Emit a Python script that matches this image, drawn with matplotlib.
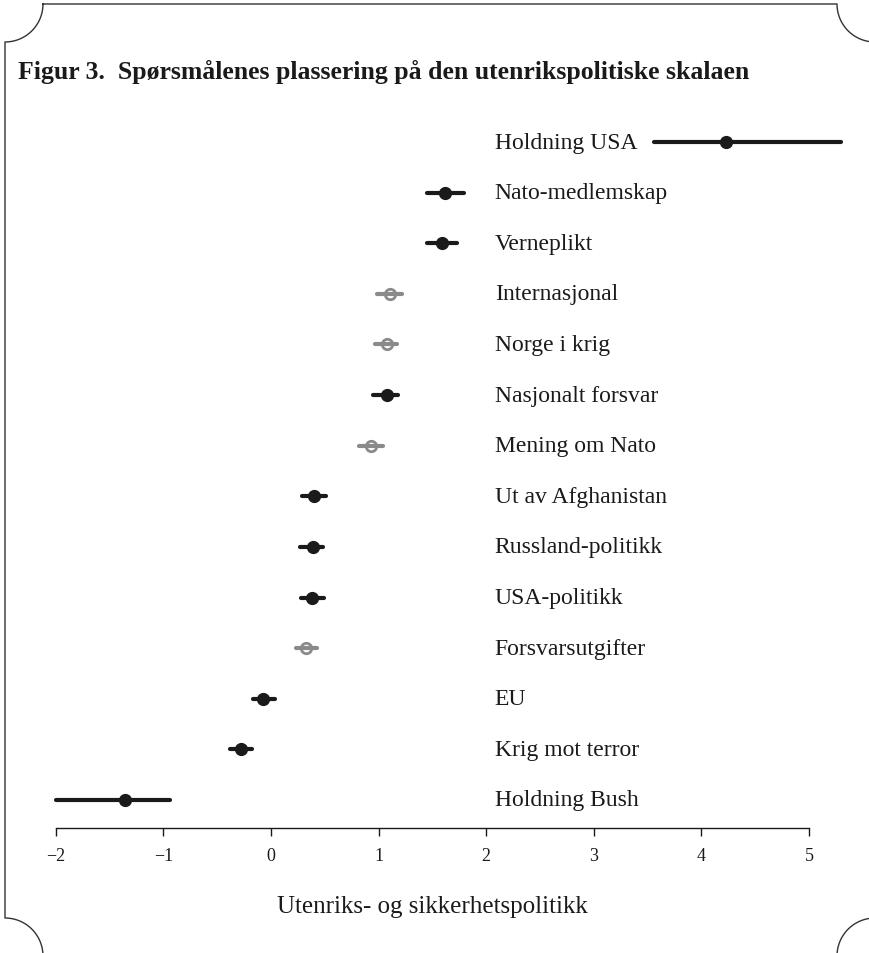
import numpy as np
import matplotlib
matplotlib.use("Agg")
import matplotlib.pyplot as plt
from matplotlib.lines import Line2D

# data, bottom row first
items = ["Holdning Bush", "Krig mot terror", "EU", "Forsvarsutgifter", "USA-politikk",
         "Russland-politikk", "Ut av Afghanistan", "Mening om Nato", "Nasjonalt forsvar",
         "Norge i krig", "Internasjonal", "Verneplikt", "Nato-medlemskap", "Holdning USA"]
est = [-1.36, -0.28, -0.07, 0.33, 0.38, 0.39, 0.40, 0.93, 1.08, 1.08, 1.11, 1.59, 1.62, 4.23]
low = [-2.00, -0.38, -0.17, 0.23, 0.28, 0.27, 0.29, 0.82, 0.95, 0.97, 0.99, 1.45, 1.45, 3.56]
high = [-0.94, -0.18, 0.04, 0.43, 0.49, 0.48, 0.51, 1.04, 1.18, 1.17, 1.22, 1.73, 1.79, 5.30]
hollow = [False, False, False, True, False, False, False, True, False, True, True, False, False, False]
ticks = [-2, -1, 0, 1, 2, 3, 4, 5]

W, H = 869, 954
fig = plt.figure(figsize=(W / 100, H / 100), dpi=100)
plt.rcParams['font.family'] = ['Liberation Serif', 'DejaVu Serif']

# frame with concave corners (image pixel coords)
def px(x, y):
    return x / W, 1 - y / H

x0, x1, y0, y1, R = 5, 875, 5, 957, 38
def arc(cx, cy, a0, a1):
    a = np.radians(np.linspace(a0, a1, 40))
    return list(zip(cx + R * np.cos(a), cy + R * np.sin(a)))

pts = [(x0 + R, y0), (x1 - R, y0)]
pts += arc(x1, y0, 180, 90)
pts += arc(x1, y1, 270, 180)
pts += arc(x0, y1, 360, 270)
pts += arc(x0, y0, 90, 0)
fx, fy = zip(*[px(a, b) for a, b in pts])
fig.add_artist(Line2D(fx, fy, transform=fig.transFigure, color="#333333", lw=1.0))

fig.text(*px(18, 72), "Figur 3.  Spørsmålenes plassering på den utenrikspolitiske skalaen",
         fontsize=18.5, fontweight="bold", va="center", ha="left", color="#1a1a1a")

ax = fig.add_axes([50.4 / W, 1 - 828.8 / H, (852 - 50.4) / W, (828.8 - 117.7) / H])
ax.set_xlim(-2.05, 5.4)
ax.set_ylim(-0.55, 13.5)

ypos = np.arange(len(items))
for i in range(len(items)):
    col = "#8a8a8a" if hollow[i] else "#1a1a1a"
    ax.plot([low[i], high[i]], [ypos[i], ypos[i]], color=col, lw=3.0,
            solid_capstyle="round", clip_on=False)
    if hollow[i]:
        ax.plot(est[i], ypos[i], "o", ms=7.5, mfc="none", mec=col, mew=2.0, clip_on=False)
    else:
        ax.plot(est[i], ypos[i], "o", ms=8.5, color=col, clip_on=False)
    ax.text(2.08, ypos[i], items[i], fontsize=17, va="center", ha="left", color="#1a1a1a")

for s in ["top", "right", "left"]:
    ax.spines[s].set_visible(False)
ax.spines["bottom"].set_bounds(-2, 5)
ax.spines["bottom"].set_linewidth(1.0)
ax.spines["bottom"].set_color("#1a1a1a")
ax.set_yticks([])
ax.set_xticks(ticks)
ax.set_xticklabels([str(t).replace("-", "\u2212") for t in ticks])
ax.tick_params(axis="x", length=6, width=1.0, labelsize=13, pad=8, colors="#1a1a1a")

fig.text(*px(432, 907), "Utenriks- og sikkerhetspolitikk", fontsize=18, ha="center",
         va="center", color="#1a1a1a")

fig.savefig("out.png", dpi=100)
